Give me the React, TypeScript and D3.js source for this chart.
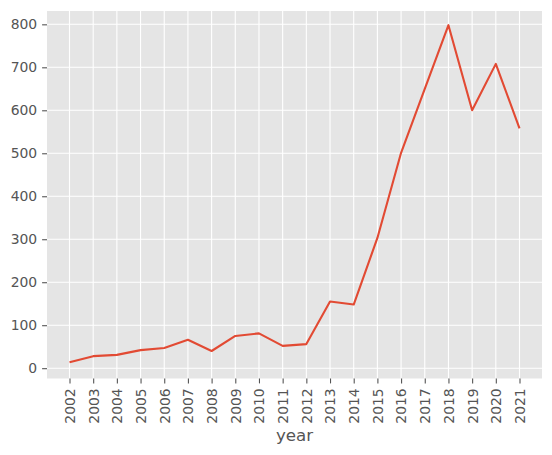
import { useEffect, useRef } from "react"
import * as d3 from "d3"

const years = [
  2002, 2003, 2004, 2005, 2006, 2007, 2008, 2009, 2010, 2011, 2012, 2013, 2014, 2015, 2016, 2017, 2018, 2019, 2020,
  2021,
]
const counts = [14, 28, 31, 42, 47, 66, 40, 75, 81, 52, 56, 155, 148, 303, 501, 650, 798, 600, 708, 558]
const yTicks = [0, 100, 200, 300, 400, 500, 600, 700, 800]

const WIDTH = 552
const HEIGHT = 455

export default function App() {
  const svgRef = useRef<SVGSVGElement>(null)

  useEffect(() => {
    document.body.style.margin = "0"
    if (!svgRef.current) return

    const svg = d3.select(svgRef.current)
    svg.selectAll("*").remove()

    const margin = { top: 11, right: 10, bottom: 76.5, left: 47 }
    const innerW = WIDTH - margin.left - margin.right
    const innerH = HEIGHT - margin.top - margin.bottom
    const font = "DejaVu Sans, sans-serif"

    // * matplotlib-ish 5% margins
    const pad = (years.length - 1) * 0.05
    const x = d3
      .scaleLinear()
      .domain([years[0] - pad, years[years.length - 1] + pad])
      .range([0, innerW])
    const y = d3.scaleLinear().domain([-24, 831]).range([innerH, 0])

    const g = svg.append("g").attr("transform", `translate(${margin.left},${margin.top})`)

    // * Background panel
    g.append("rect").attr("width", innerW).attr("height", innerH).attr("fill", "#E5E5E5")

    // * Grid
    g.selectAll(".vgrid")
      .data(years)
      .enter()
      .append("line")
      .attr("x1", (d) => x(d))
      .attr("x2", (d) => x(d))
      .attr("y1", 0)
      .attr("y2", innerH)
      .attr("stroke", "#fff")
      .attr("stroke-width", 1.1)

    g.selectAll(".hgrid")
      .data(yTicks)
      .enter()
      .append("line")
      .attr("x1", 0)
      .attr("x2", innerW)
      .attr("y1", (d) => y(d))
      .attr("y2", (d) => y(d))
      .attr("stroke", "#fff")
      .attr("stroke-width", 1.1)

    // * Line
    const line = d3
      .line<number>()
      .x((_, i) => x(years[i]))
      .y((d) => y(d))
    g.append("path")
      .datum(counts)
      .attr("d", line)
      .attr("fill", "none")
      .attr("stroke", "#E24A33")
      .attr("stroke-width", 2.1)
      .attr("stroke-linejoin", "round")

    // * X axis
    const xAxis = d3
      .axisBottom(x)
      .tickValues(years)
      .tickFormat((d) => String(d))
      .tickSize(4.9)
      .tickPadding(4.9)
    const xg = g.append("g").attr("transform", `translate(0,${innerH})`).call(xAxis)
    xg.select(".domain").remove()
    xg.selectAll(".tick line").attr("stroke", "#555555").attr("stroke-width", 1.1)
    xg.selectAll(".tick text")
      .attr("font-family", font)
      .attr("font-size", "13.9px")
      .attr("fill", "#555555")
      .attr("transform", "rotate(-90)")
      .attr("text-anchor", "end")
      .attr("dy", "0.35em")
      .attr("x", -9.8)
      .attr("y", 0)

    // * Y axis
    const yAxis = d3.axisLeft(y).tickValues(yTicks).tickSize(4.9).tickPadding(4.9)
    const yg = g.append("g").call(yAxis)
    yg.select(".domain").remove()
    yg.selectAll(".tick line").attr("stroke", "#555555").attr("stroke-width", 1.1)
    yg.selectAll(".tick text")
      .attr("font-family", font)
      .attr("font-size", "13.9px")
      .attr("fill", "#555555")

    // * X label
    svg
      .append("text")
      .attr("x", margin.left + innerW / 2)
      .attr("y", 440.5)
      .attr("text-anchor", "middle")
      .attr("font-family", font)
      .attr("font-size", "16.7px")
      .attr("fill", "#555555")
      .text("year")
  }, [])

  return <svg ref={svgRef} width={WIDTH} height={HEIGHT} style={{ display: "block", background: "#fff" }}></svg>
}
